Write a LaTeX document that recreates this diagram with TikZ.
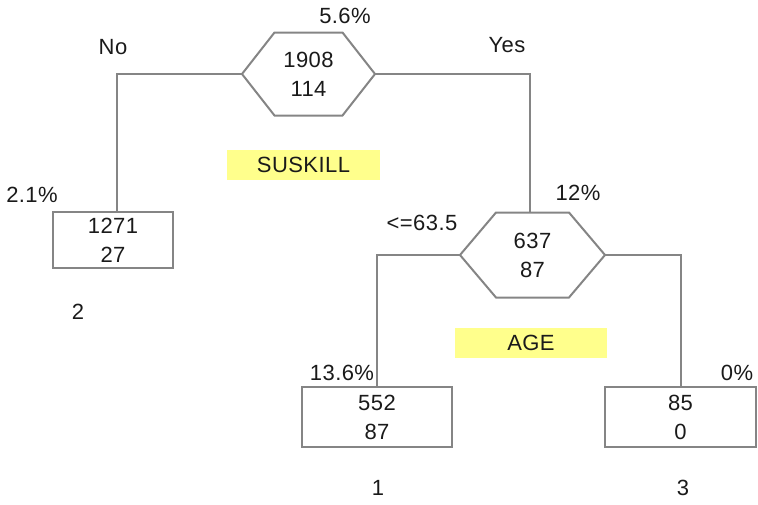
\documentclass[tikz,border=0pt]{standalone}
\usepackage{fontspec}
\setmainfont{Liberation Sans}[LetterSpace=2]
\usetikzlibrary{calc}
\definecolor{linegray}{HTML}{858585}
\definecolor{txt}{HTML}{1A1A1A}
\definecolor{hl}{HTML}{FFFF8C}
\begin{document}
\begin{tikzpicture}[x=1pt,y=-1pt,
  every node/.style={font=\fontsize{22}{29}\selectfont, text=txt, inner sep=0pt},
  conn/.style={draw=linegray, line width=2pt},
  hexline/.style={draw=linegray, line width=2pt, line join=miter},
  leaf/.style={draw=linegray, line width=2pt, align=center, minimum width=#1},
  hexnode/.style={align=center},
  hlbox/.style={fill=hl}]
\useasboundingbox (0,0) rectangle (758,504);
% root hexagon
\node[hexnode] (r) at (308.5,74) {1908\\114};
\coordinate (rL) at ($(r.center)+(-66.5,0)$);
\coordinate (rR) at ($(r.center)+(66.5,0)$);
\draw[hexline] (rL) -- ++(32.5,-41.5) -- ++(68,0) -- (rR) -- ++(-32.5,41.5) -- ++(-68,0) -- cycle;
% second hexagon
\node[hexnode] (h) at (532.5,255) {637\\87};
\coordinate (hL) at ($(h.center)+(-72.5,0)$);
\coordinate (hR) at ($(h.center)+(72.5,0)$);
\coordinate (hT) at ($(h.center)+(-2.5,-42.5)$);
\draw[hexline] (hL) -- ++(36,-42.5) -- ++(73,0) -- (hR) -- ++(-36,42.5) -- ++(-73,0) -- cycle;
% leaves
\node[leaf=120pt, minimum height=56pt, align=center] (b1) at (113,240) {1271\\27};
\node[leaf=150pt, minimum height=60pt, align=center] (b2) at (377,417) {552\\87};
\node[leaf=151pt, minimum height=60pt, align=center] (b3) at (680.5,417) {85\\0};
% connectors
\draw[conn] (rL) -| ([xshift=4pt]b1.north);
\draw[conn] (rR) -| (hT);
\draw[conn] (hL) -| (b2.north);
\draw[conn] (hR) -| (b3.north);
% highlighted variable names
\node[hlbox, minimum width=153pt, minimum height=30pt] (v1) at (303.5,165) {SUSKILL};
\node[hlbox, minimum width=152pt, minimum height=30pt] (v2) at (531,343) {AGE};
% labels
\node (lno) at (113,47) {No};
\node (lyes) at (507,45) {Yes};
\node (p0) at (345,16) {5.6\%};
\node (p1) at (32,195) {2.1\%};
\node (p2) at (578,193) {12\%};
\node (lsp) at (422,223) {<=63.5};
\node (p3) at (342,373) {13.6\%};
\node (p4) at (737,373) {0\%};
\node (n2) at (78,312) {2};
\node (n1) at (378,488) {1};
\node (n3) at (683,488) {3};
\end{tikzpicture}
\end{document}
